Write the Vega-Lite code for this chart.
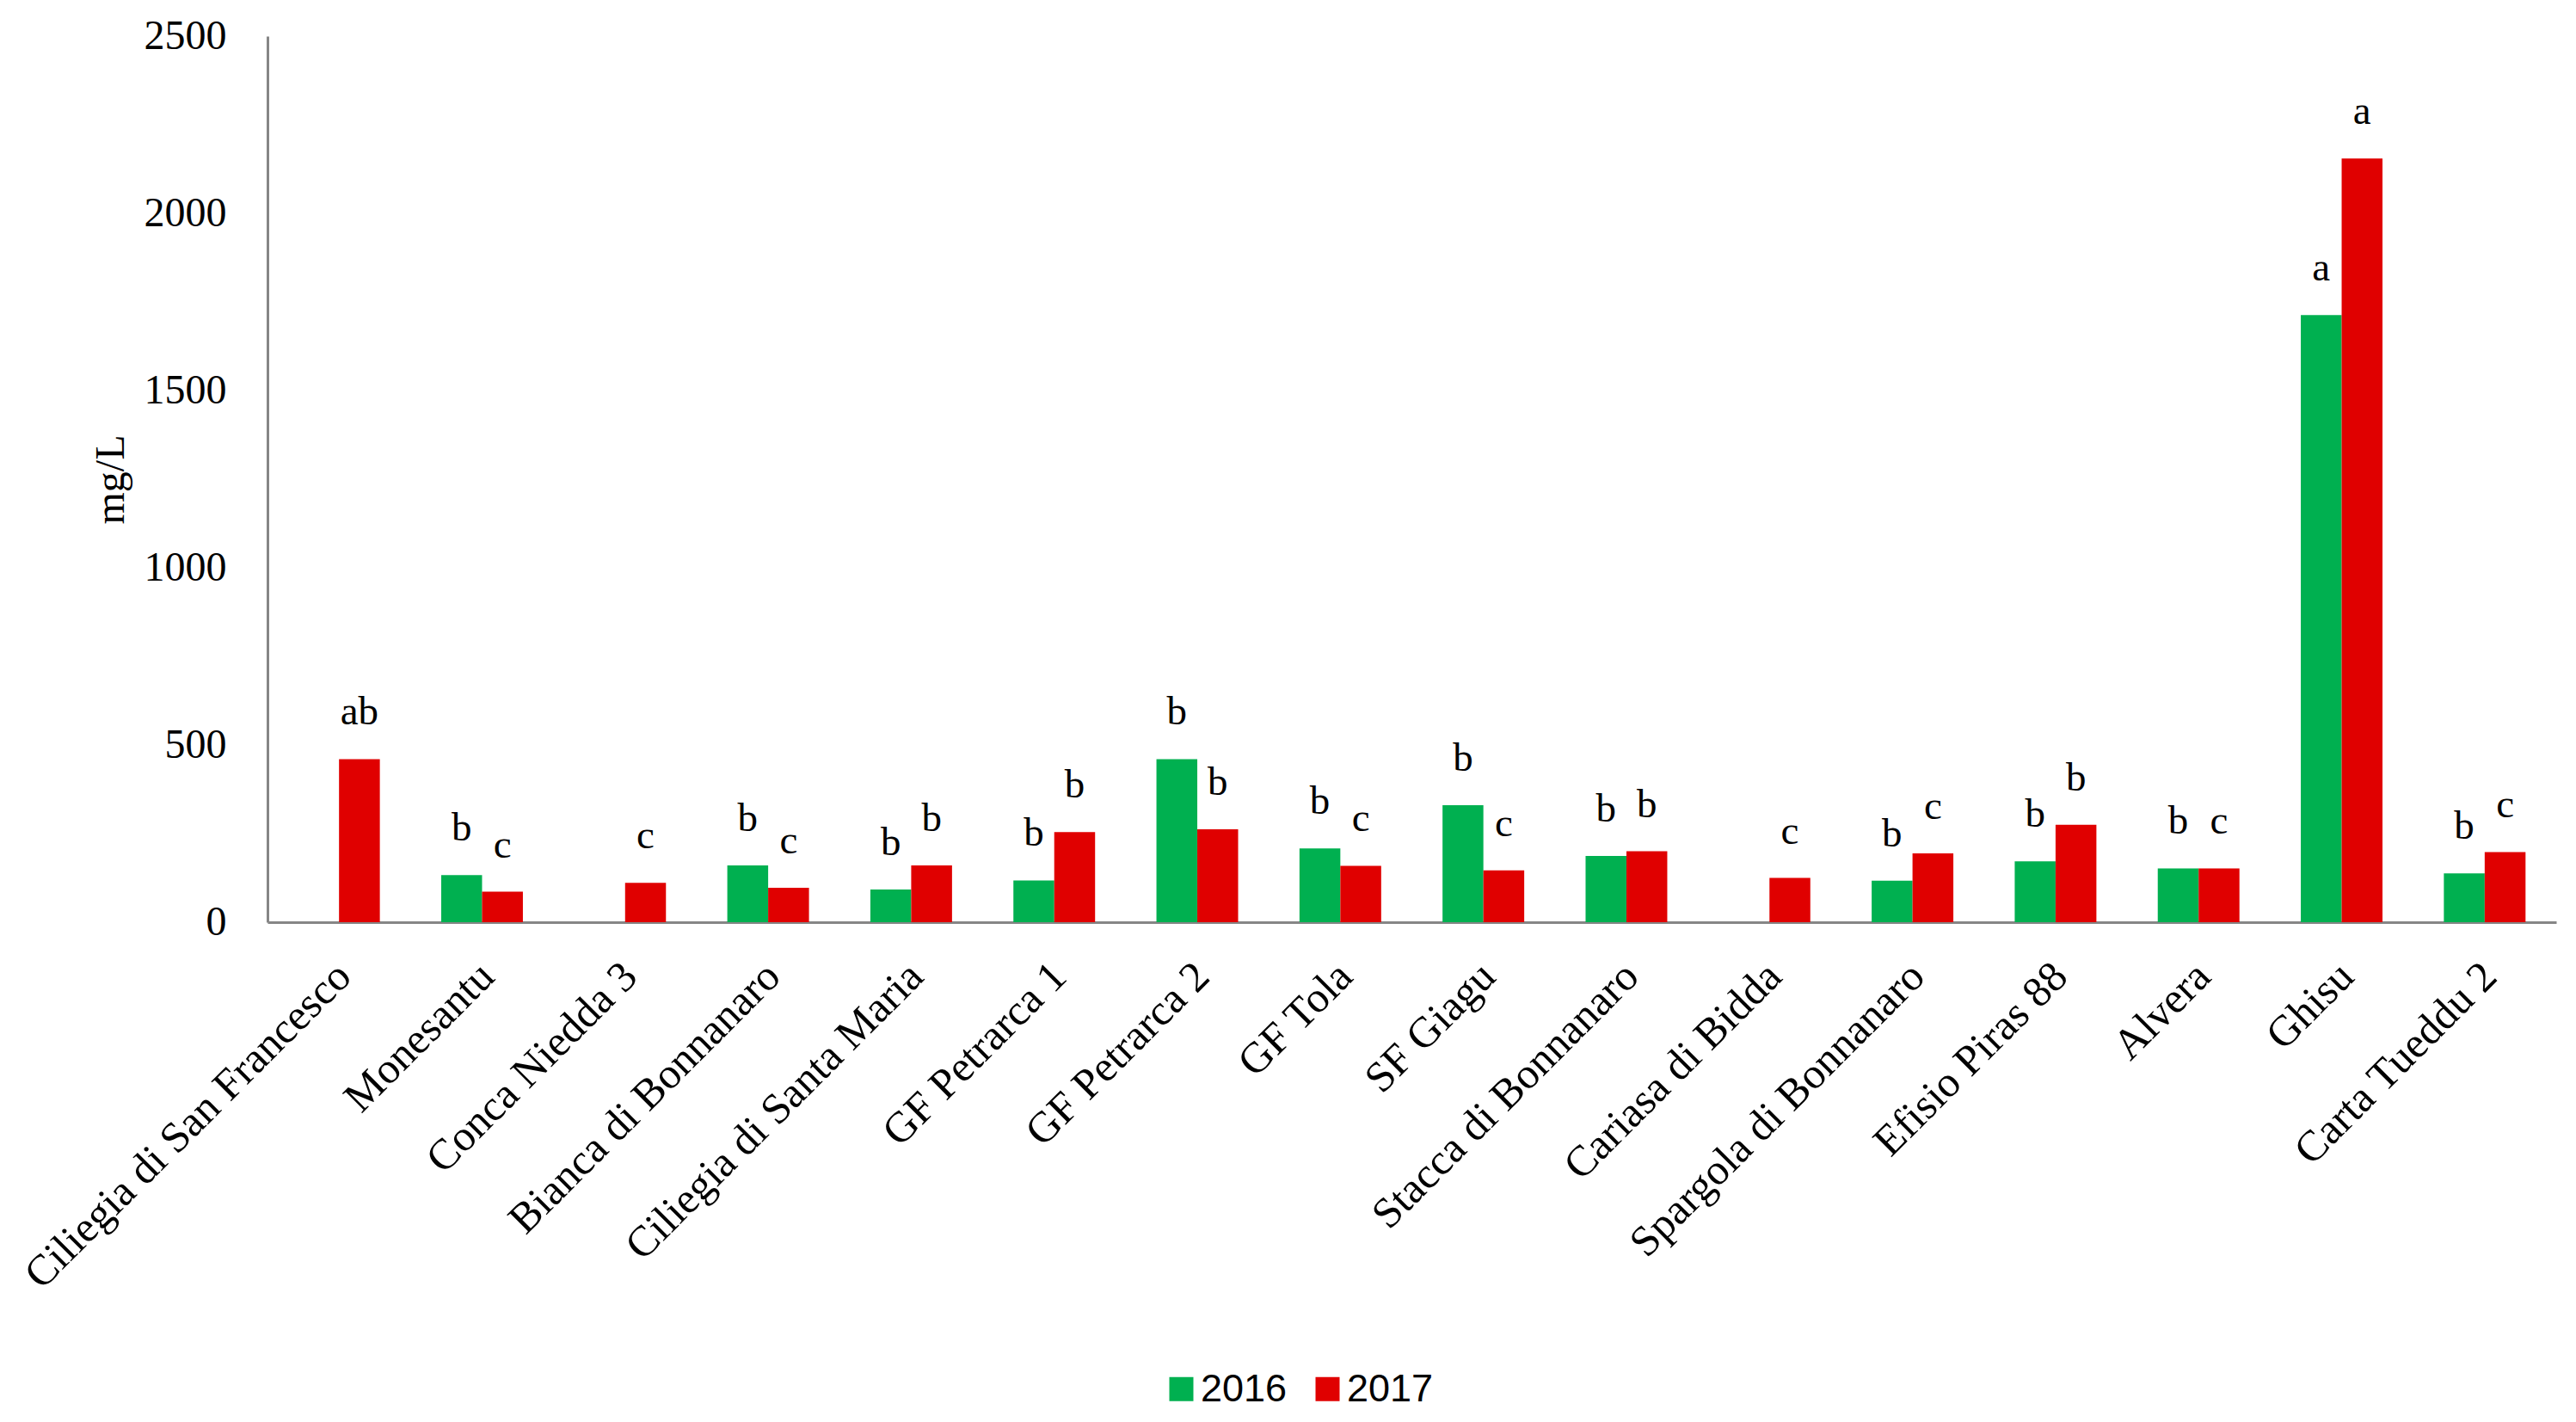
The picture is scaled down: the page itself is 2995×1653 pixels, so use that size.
{
  "$schema": "https://vega.github.io/schema/vega-lite/v6.json",
  "width": 2661,
  "height": 1030,
  "autosize": {"type": "none"},
  "padding": {"left": 311, "top": 42, "right": 23, "bottom": 581},
  "background": "white",
  "config": {"view": {"stroke": null}, "font": "Liberation Serif"},
  "data": {
    "values": [
      {"cultivar": "Ciliegia di San Francesco", "year": "2017", "value": 460, "letter": "ab"},
      {"cultivar": "Monesantu", "year": "2016", "value": 133, "letter": "b"},
      {"cultivar": "Monesantu", "year": "2017", "value": 86, "letter": "c"},
      {"cultivar": "Conca Niedda 3", "year": "2017", "value": 111, "letter": "c"},
      {"cultivar": "Bianca di Bonnanaro", "year": "2016", "value": 160, "letter": "b"},
      {"cultivar": "Bianca di Bonnanaro", "year": "2017", "value": 97, "letter": "c"},
      {"cultivar": "Ciliegia di Santa Maria", "year": "2016", "value": 92, "letter": "b"},
      {"cultivar": "Ciliegia di Santa Maria", "year": "2017", "value": 160, "letter": "b"},
      {"cultivar": "GF Petrarca 1", "year": "2016", "value": 118, "letter": "b"},
      {"cultivar": "GF Petrarca 1", "year": "2017", "value": 254, "letter": "b"},
      {"cultivar": "GF Petrarca 2", "year": "2016", "value": 460, "letter": "b"},
      {"cultivar": "GF Petrarca 2", "year": "2017", "value": 262, "letter": "b"},
      {"cultivar": "GF Tola", "year": "2016", "value": 208, "letter": "b"},
      {"cultivar": "GF Tola", "year": "2017", "value": 159, "letter": "c"},
      {"cultivar": "SF Giagu", "year": "2016", "value": 330, "letter": "b"},
      {"cultivar": "SF Giagu", "year": "2017", "value": 146, "letter": "c"},
      {"cultivar": "Stacca di Bonnanaro", "year": "2016", "value": 187, "letter": "b"},
      {"cultivar": "Stacca di Bonnanaro", "year": "2017", "value": 200, "letter": "b"},
      {"cultivar": "Cariasa di Bidda", "year": "2017", "value": 125, "letter": "c"},
      {"cultivar": "Spargola di Bonnanaro", "year": "2016", "value": 117, "letter": "b"},
      {"cultivar": "Spargola di Bonnanaro", "year": "2017", "value": 194, "letter": "c"},
      {"cultivar": "Efisio Piras 88", "year": "2016", "value": 172, "letter": "b"},
      {"cultivar": "Efisio Piras 88", "year": "2017", "value": 275, "letter": "b"},
      {"cultivar": "Alvera", "year": "2016", "value": 152, "letter": "b"},
      {"cultivar": "Alvera", "year": "2017", "value": 152, "letter": "c"},
      {"cultivar": "Ghisu", "year": "2016", "value": 1713, "letter": "a"},
      {"cultivar": "Ghisu", "year": "2017", "value": 2155, "letter": "a"},
      {"cultivar": "Carta Tueddu 2", "year": "2016", "value": 138, "letter": "b"},
      {"cultivar": "Carta Tueddu 2", "year": "2017", "value": 198, "letter": "c"}
    ]
  },
  "encoding": {
    "x": {
      "field": "cultivar",
      "type": "nominal",
      "sort": ["Ciliegia di San Francesco", "Monesantu", "Conca Niedda 3", "Bianca di Bonnanaro", "Ciliegia di Santa Maria", "GF Petrarca 1", "GF Petrarca 2", "GF Tola", "SF Giagu", "Stacca di Bonnanaro", "Cariasa di Bidda", "Spargola di Bonnanaro", "Efisio Piras 88", "Alvera", "Ghisu", "Carta Tueddu 2"],
      "scale": {"paddingInner": 0.429, "paddingOuter": 0.2145},
      "axis": {
        "title": null,
        "domain": true,
        "domainColor": "#868686",
        "domainWidth": 3,
        "ticks": false,
        "grid": false,
        "labelAngle": -45,
        "labelAlign": "right",
        "labelBaseline": "middle",
        "labelPadding": 55,
        "labelOffset": 6,
        "labelFont": "Liberation Serif",
        "labelFontSize": 50,
        "labelColor": "#000000",
        "labelLimit": 1000
      }
    },
    "xOffset": {"field": "year", "type": "nominal", "sort": ["2016", "2017"]},
    "y": {
      "field": "value",
      "type": "quantitative",
      "scale": {"domain": [0, 2500], "nice": false},
      "axis": {
        "title": "mg/L",
        "values": [0, 500, 1000, 1500, 2000, 2500],
        "format": "d",
        "domain": true,
        "domainColor": "#868686",
        "domainWidth": 3,
        "ticks": false,
        "grid": false,
        "labelPadding": 48,
        "labelFont": "Liberation Serif",
        "labelFontSize": 48,
        "labelColor": "#000000",
        "titleFont": "Liberation Serif",
        "titleFontSize": 48,
        "titleFontWeight": "normal",
        "titleColor": "#000000",
        "titleX": -182,
        "titleY": 515,
        "titleAlign": "center",
        "titleBaseline": "middle",
        "titleAngle": -90
      }
    }
  },
  "layer": [
    {
      "mark": {"type": "bar"},
      "encoding": {
        "color": {
          "field": "year",
          "type": "nominal",
          "scale": {"domain": ["2016", "2017"], "range": ["#00b050", "#e00000"]},
          "legend": {
            "title": null,
            "orient": "none",
            "legendX": 1040,
            "legendY": 1550,
            "direction": "horizontal",
            "symbolType": "square",
            "symbolSize": 784,
            "symbolStrokeWidth": 0,
            "labelFont": "Liberation Sans",
            "labelFontSize": 45,
            "labelColor": "#000000",
            "labelOffset": 0,
            "columnPadding": 24,
            "padding": 0
          }
        }
      }
    },
    {
      "mark": {"type": "text", "baseline": "bottom", "dy": -30, "fontSize": 47, "font": "Liberation Serif", "color": "#000000"},
      "encoding": {"text": {"field": "letter"}}
    }
  ]
}
